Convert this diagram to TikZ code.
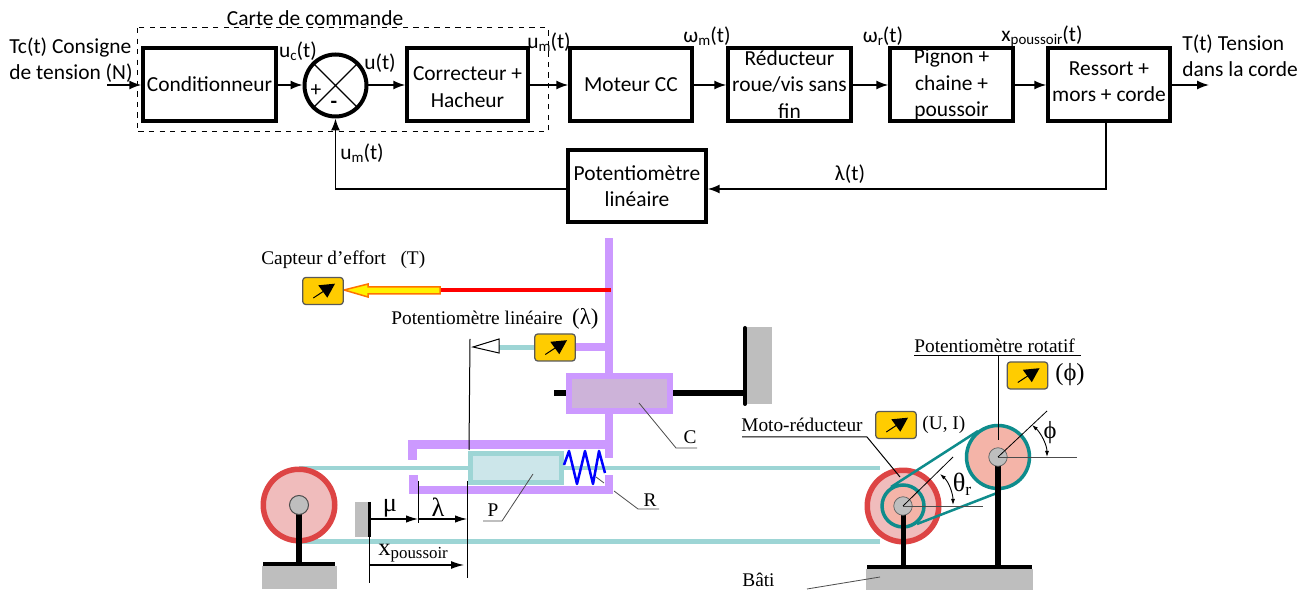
\documentclass[tikz,border=0pt]{standalone}
\usepackage{fontspec}
\setmainfont{Carlito}
\newfontfamily\ser{Liberation Serif}
\usetikzlibrary{arrows.meta,calc}
\definecolor{purp}{HTML}{CC99FF}
\definecolor{cable}{HTML}{9DD5D5}
\definecolor{pistin}{HTML}{CCE6EA}
\definecolor{cin}{HTML}{CDB3D9}
\definecolor{ringred}{HTML}{DD4444}
\definecolor{pulpink}{HTML}{F0BCBC}
\definecolor{salmon}{HTML}{F4B4A8}
\definecolor{belt}{HTML}{0E8C8C}
\definecolor{greyb}{HTML}{BEBEBE}
\definecolor{sens}{HTML}{FFCC00}
\newcommand\lowtxt[1]{\raisebox{-0.3ex}{\fontsize{8.5}{9}\selectfont #1}}
\newcommand\lowser[1]{\raisebox{-0.35ex}{\fontsize{10}{10}\selectfont #1}}
\newcommand\capteur[3]{%
  \node[sensorbox] (#1) at (#2,#3) {};
  \draw[line width=0.02cm] ($(#1.center)+(-9.7,7)$) -- ($(#1.center)+(2,-0.7)$);
  \fill ($(#1.center)+(-4.7,-5.7)$) -- ($(#1.center)+(12,-7.3)$) -- ($(#1.center)+(4.3,6.7)$) -- cycle;
}
\tikzset{
  blockbox/.style={draw,line width=0.07cm,minimum height=1.46cm,inner sep=0pt,fill=white},
  txt/.style={font=\fontsize{12.2}{15}\selectfont,align=center,inner sep=0pt},
  txtl/.style={font=\fontsize{12.2}{15}\selectfont,align=left,inner sep=0pt},
  sertxt/.style={font=\ser\fontsize{11}{13}\selectfont,inner sep=0pt},
  sigline/.style={line width=0.03cm,-{Latex[length=0.24cm,width=0.18cm]}},
  thin line/.style={line width=0.02cm},
  leader/.style={line width=0.016cm,draw=black!70},
  sensorbox/.style={draw=black!65,line width=0.025cm,fill=sens,rounded corners=0.06cm,minimum width=0.81cm,minimum height=0.54cm,inner sep=0pt},
  dimarrow/.style={line width=0.024cm,-{Latex[length=0.24cm,width=0.15cm]}},
  anglearrow/.style={line width=0.018cm,{Latex[length=0.12cm,width=0.08cm]}-{Latex[length=0.12cm,width=0.08cm]}},
}
\begin{document}
\begin{tikzpicture}[x=0.02cm,y=-0.02cm]
\useasboundingbox (0,0) rectangle (1308,590);
\fill[white] (0,0) rectangle (1308,590);
% ---------- block diagram
\draw[dashed,line width=0.02cm] (137,28) rectangle (548,132);
\node[blockbox,minimum width=2.66cm] (cond) at (209.5,84.5) {};
\node[blockbox,minimum width=2.42cm] (corr) at (467.5,84.5) {};
\node[blockbox,minimum width=2.44cm] (mot) at (631,84.5) {};
\node[blockbox,minimum width=2.46cm] (red) at (789.5,84.5) {};
\node[blockbox,minimum width=2.46cm] (pig) at (951.5,84.5) {};
\node[blockbox,minimum width=2.44cm] (res) at (1109,84.5) {};
\node[blockbox,minimum width=2.76cm,minimum height=1.44cm] (pot) at (637,186) {};
\node[draw,circle,line width=0.08cm,minimum size=1.24cm,inner sep=0pt,fill=white] (sum) at (335.5,85.5) {};
\draw[line width=0.025cm] (sum.45) -- (sum.225) (sum.135) -- (sum.315);
\node[txt] (condT) at (cond) {Conditionneur};
\node[txt] (corrT) at (467.5,87) {Correcteur +\\Hacheur};
\node[txt] (motT) at (mot) {Moteur CC};
\node[txt] (redT) at (red) {Réducteur\\roue/vis sans\\fin};
\node[txt] (pigT) at (pig) {Pignon +\\chaine +\\poussoir};
\node[txt] (resT) at (1109,81.5) {Ressort +\\mors + corde};
\node[txt] (potT) at (pot) {Potentiomètre\\linéaire};
\node[txt] (plus) at (316,91) {+};
\node[txt] (minus) at (334,105) {\textbf{-}};
\coordinate (inp) at (107,85);
\coordinate (outp) at (1209,85);
\coordinate (resd) at (1106,121);
\coordinate (resc) at (1106,189);
\coordinate (fbc) at (335.5,189);
\draw[sigline] (inp) -- (inp -| cond.west);
\draw[sigline] (cond.east |- 0,85) -- (sum.west |- 0,85);
\draw[sigline] (sum.east |- 0,85) -- (corr.west |- 0,85);
\draw[sigline] (corr.east |- 0,85) -- (mot.west |- 0,85);
\draw[sigline] (mot.east |- 0,85) -- (red.west |- 0,85);
\draw[sigline] (red.east |- 0,85) -- (pig.west |- 0,85);
\draw[sigline] (pig.east |- 0,85) -- (res.west |- 0,85);
\draw[sigline] (res.east |- 0,85) -- (outp);
\draw[sigline] (resd) -- (resc) -- (pot.east |- resc);
\draw[sigline] (pot.west |- resc) -- (fbc) -- (sum.south);
\node[txt] (carte) at (315,18) {Carte de commande};
\node[txtl,anchor=west] (tc) at (9,60) {Tc(t) Consigne\\de tension (N)};
\node[txt] (uc) at (298,51) {u\lowtxt{c}(t)};
\node[txt] (u) at (380,63) {u(t)};
\node[txt] (um) at (549,42) {u\lowtxt{m}(t)};
\node[txt] (umb) at (362,153) {u\lowtxt{m}(t)};
\node[txt] (wm) at (707,36) {ω\lowtxt{m}(t)};
\node[txt] (wr) at (883,36) {ω\lowtxt{r}(t)};
\node[txt] (xp) at (1042,36) {x\lowtxt{poussoir}(t)};
\node[txtl,anchor=west] (tt) at (1182,56) {T(t) Tension\\dans la corde};
\node[txt] (lt) at (850,174) {λ(t)};
% ---------- mechanism: cables
\fill[cable] (299,466) rectangle (880,470.5);
\fill[cable] (299,539.5) rectangle (880,544);
% frame (purple)
\fill[purp] (605,238) rectangle (613,458);
\fill[purp] (576,343) rectangle (605,351);
\fill[purp] (408,440) rectangle (613,449);
\fill[purp] (408,449) rectangle (417,460);
\fill[purp] (409,486) rectangle (613,494);
\fill[purp] (409,475) rectangle (418,486);
\fill[purp] (605,475) rectangle (613,486);
% rod and wall
\fill (554,390) rectangle (566,396);
\fill (673,390) rectangle (745,396);
\fill[greyb] (747,327) rectangle (772,404);
\draw[line width=0.08cm,line cap=round] (745,328) -- (745,404);
% carriage C
\fill[purp] (566,373) rectangle (673,414);
\fill[cin] (572,379) rectangle (667,408);
% piston P
\fill[cable] (468,451) rectangle (564,485);
\fill[pistin] (473,456) rectangle (559,480);
% spring
\draw[blue,line width=0.05cm,line join=round] (564,465) -- (569,451) -- (577,484) -- (585,451) -- (593,484) -- (599,451) -- (605,473);
% capteur d'effort
\fill[red] (440,288) rectangle (611,292.5);
\draw[draw=orange!90!red,fill=yellow,line width=0.03cm] (344,290) -- (368,284) -- (368,287) -- (440,287) -- (440,294) -- (368,294) -- (368,297) -- cycle;
\capteur{sT}{323}{291}
\node[sertxt,anchor=west] (capT) at (261,260) {Capteur d’effort\ \ \ (T)};
% potentiometre lineaire
\fill[cable] (499,345) rectangle (534,350);
\capteur{sL}{555}{347.5}
\node[sertxt,anchor=west] (potL) at (391,319) {Potentiomètre linéaire\ \ {\fontsize{13}{13}\selectfont(λ)}};
\coordinate (triTip) at (473,347);
\draw[line width=0.02cm,fill=white] (triTip) -- (499,339) -- (499,353) -- cycle;
\draw[thin line] (470,339) -- (469,450);
\draw[thin line] (467,481) -- (467,578);
% left pulley
\node[circle,draw=ringred,fill=pulpink,line width=0.11cm,minimum size=1.43cm,inner sep=0pt] (lp) at (299,505) {};
\fill (296,505) rectangle (302,563);
\node[circle,draw=black!70,fill=greyb,line width=0.02cm,minimum size=0.38cm,inner sep=0pt] (lh) at (299,505) {};
\fill[greyb] (262,566) rectangle (337,589);
\fill (263,562) rectangle (335,566);
% dimension
\fill[greyb] (355,502) rectangle (368,537);
\coordinate (wtop) at (369.5,502);
\coordinate (wmid) at (369.5,537);
\coordinate (wbot) at (369.5,583);
\draw[line width=0.05cm] (wtop) -- (wmid);
\draw[thin line] (wmid) -- (wbot);
\coordinate (m0) at (370,519);
\coordinate (m1) at (418,519);
\coordinate (m2) at (467,519);
\coordinate (x0) at (370,565);
\coordinate (x1) at (464,565);
\draw[dimarrow] (m0) -- (m1);
\draw[dimarrow] (m1) -- (m2);
\draw[thin line] (418,481) -- (418,523);
\draw[line width=0.024cm,-{Latex[length=0.26cm,width=0.16cm]}] (x0) -- (x1);
\node[sertxt,font=\ser\fontsize{15}{15}\selectfont] (muT) at (390,508) {μ};
\node[sertxt,font=\ser\fontsize{15}{15}\selectfont] (laT) at (438,507) {λ};
\node[sertxt,anchor=west,font=\ser\fontsize{14}{14}\selectfont] (xpT) at (378,553) {x\raisebox{-0.3ex}{\fontsize{9.6}{10}\selectfont poussoir}};
% P, C, R
\node[sertxt] (PT) at (493,510) {P};
\node[sertxt] (CT) at (690,437) {C};
\node[sertxt] (RT) at (650,500) {R};
\draw[leader] (533,474) -- (502,521) -- (483,521);
\draw[leader] (639,403) -- (676,448) -- (697,448);
\draw[leader] (614,491) -- (638,509) -- (659,509);
\draw[leader] (596,477) -- (604,483);
% right base
\fill[greyb] (866,569) rectangle (1033,590);
\fill (867,565) rectangle (1032,569);
% moto-reducteur pulley
\node[circle,draw=ringred,fill=pulpink,line width=0.11cm,minimum size=1.43cm,inner sep=0pt] (mp) at (903,506) {};
% belt
\draw[belt,line width=0.05cm] (891,487) -- (978,431);
\draw[belt,line width=0.05cm] (917,524) -- (997,493);
\node[circle,draw=belt,fill=salmon,line width=0.07cm,minimum size=0.84cm,inner sep=0pt] (mi) at (903,506) {};
\node[circle,draw=belt,fill=salmon,line width=0.07cm,minimum size=1.26cm,inner sep=0pt] (rp) at (998,457) {};
% posts
\fill (901,506) rectangle (906,566);
\fill (995,457) rectangle (1000.5,566);
\node[circle,draw=black!60,fill=greyb,line width=0.015cm,minimum size=0.37cm,inner sep=0pt] (mh) at (903,506) {};
\node[circle,draw=black!60,fill=greyb,line width=0.015cm,minimum size=0.37cm,inner sep=0pt] (rh) at (998,457) {};
% angles
\draw[leader] (903,506) -- (983,506);
\draw[leader,draw=black] (903,506) -- (953,457);
\draw[leader] (998,457) -- (1077,457);
\draw[leader,draw=black] (998,457) -- (1047,411);
\draw[anglearrow] (940,474) .. controls (949,482) and (953,494) .. (953,505);
\draw[anglearrow] (1032,425) .. controls (1041,433) and (1047,445) .. (1047,457);
\node[sertxt,font=\ser\fontsize{15}{15}\selectfont] (thT) at (962,484) {θ\lowser{r}};
\node[sertxt,font=\ser\fontsize{14}{14}\selectfont] (phT) at (1050,433) {ϕ};
% labels right
\node[sertxt,anchor=west] (moto) at (741,425) {Moto-réducteur};
\draw[line width=0.02cm] (742,437) -- (867,437) -- (900,477);
\capteur{sU}{896}{425}
\node[sertxt,anchor=west] (uiT) at (922,425) {(U, I)};
\node[sertxt,anchor=west] (rot) at (914,346) {Potentiomètre rotatif};
\draw[line width=0.02cm] (914,356) -- (1081,356);
\draw[line width=0.02cm] (998,356) -- (998,440);
\capteur{sR}{1027.5}{375.5}
\node[sertxt,anchor=west,font=\ser\fontsize{14}{14}\selectfont] (phiL) at (1055,375) {(ϕ)};
\node[sertxt,anchor=west] (bati) at (742,580) {Bâti};
\draw[leader] (807,589) -- (880,577);
\end{tikzpicture}
\end{document}
